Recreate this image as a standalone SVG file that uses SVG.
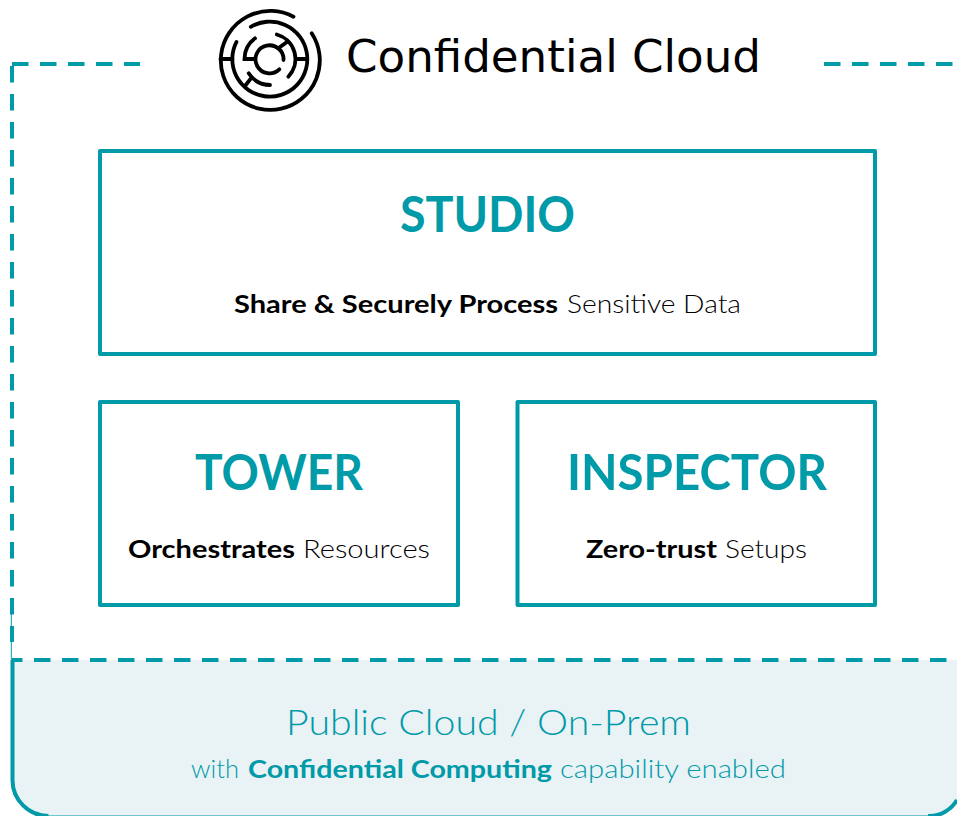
<svg xmlns="http://www.w3.org/2000/svg" width="957" height="816" viewBox="0 0 957 816">
<style>
text{font-family:"Lato","Noto Sans",sans-serif}
.dash{fill:none;stroke:#009aa8;stroke-width:4;stroke-dasharray:16.5 11.5}
.box{fill:#fff;stroke:#009aa8;stroke-width:4;stroke-linejoin:round}
.h{fill:#009aa8;font-size:49px;font-weight:700;text-anchor:start}
.s{fill:#000;font-size:25px}
.b{font-weight:700}
.l{font-weight:300}
.t{fill:#009aa8}
.m{fill:none;stroke:#000;stroke-width:3.8;stroke-linecap:round}
</style>
<rect width="957" height="816" fill="#fff"/>
<g id="panel">
<path d="M12 660H957V816H12Z" fill="#e9f2f5" stroke="none"/>
<path d="M12.5 660V780A36 36 0 0 0 48.5 816H0V660Z" fill="#fff" stroke="none"/>
<path d="M12.5 660V780A36 36 0 0 0 48.5 816" fill="none" stroke="#009aa8" stroke-width="4"/>
<path d="M46 815.7H930" fill="none" stroke="#009aa8" stroke-opacity=".5" stroke-width="1.2"/>
<path d="M957 800A32 32 0 0 1 928 816H957Z" fill="#fff" stroke="none"/>
<path d="M928 816A32 32 0 0 0 957 800" fill="none" stroke="#009aa8" stroke-width="4"/>
<text x="286" y="735" class="t l" font-size="36" textLength="405" lengthAdjust="spacingAndGlyphs">Public Cloud / On-Prem</text>
<text y="778" class="t" font-size="25"><tspan x="191" class="l" textLength="48" lengthAdjust="spacingAndGlyphs">with</tspan><tspan x="248" class="b" textLength="304" lengthAdjust="spacingAndGlyphs">Confidential Computing</tspan><tspan x="560" class="l" textLength="226" lengthAdjust="spacingAndGlyphs">capability enabled</tspan></text>
</g>
<g id="connectors">
<path class="dash" d="M12 64H140"/>
<path class="dash" d="M824 64H957"/>
<path class="dash" d="M12 66V642"/>
<path class="dash" d="M12 660H957" stroke-dashoffset="6"/>
<path d="M11.3 613V660" stroke="#009aa8" stroke-width="1" fill="none"/>
</g>
<g id="logo">
<path class="m" d="M311.7 33.3A49.5 49.5 0 1 1 293.5 16.7"/>
<path class="m" d="M236.5 41.9A37.5 37.5 0 1 0 250.8 26.8"/>
<path class="m" d="M276.8 34.5A25.5 25.5 0 0 1 288.3 76.7"/>
<path class="m" d="M255 38.3A25.5 25.5 0 0 0 244.5 59H255"/>
<path class="m" d="M248.7 73.3A25.5 25.5 0 0 0 270 85"/>
<path class="m" d="M283.5 60A14 14 0 1 0 279.3 69.3"/>
<path class="m" d="M220.5 59H232.5M297 59H307M278.3 48.3L287.3 41.7M245 86L251.7 77.3"/>
</g>
<g id="title">
<text x="346" y="72" font-size="44" fill="#000" style="font-family:'DejaVu Sans',sans-serif" textLength="415" lengthAdjust="spacingAndGlyphs">Confidential Cloud</text>
</g>
<g id="studio">
<rect class="box" x="100" y="151" width="775" height="203"/>
<text class="h" x="400" y="232" textLength="175" lengthAdjust="spacingAndGlyphs">STUDIO</text>
<text class="s" y="313"><tspan x="234" class="b" textLength="324" lengthAdjust="spacingAndGlyphs">Share &amp; Securely Process</tspan><tspan x="567" class="l" textLength="174" lengthAdjust="spacingAndGlyphs">Sensitive Data</tspan></text>
</g>
<g id="tower">
<rect class="box" x="100" y="402" width="358" height="203"/>
<text class="h" x="195" y="490" textLength="168" lengthAdjust="spacingAndGlyphs">TOWER</text>
<text class="s" y="558"><tspan x="128" class="b" textLength="167" lengthAdjust="spacingAndGlyphs">Orchestrates</tspan><tspan x="303" class="l" textLength="127" lengthAdjust="spacingAndGlyphs">Resources</tspan></text>
</g>
<g id="inspector">
<rect class="box" x="517.5" y="402" width="357.5" height="203"/>
<text class="h" x="567" y="490" textLength="260" lengthAdjust="spacingAndGlyphs">INSPECTOR</text>
<text class="s" y="558"><tspan x="586" class="b" textLength="131" lengthAdjust="spacingAndGlyphs">Zero-trust</tspan><tspan x="725" class="l" textLength="82" lengthAdjust="spacingAndGlyphs">Setups</tspan></text>
</g>
</svg>
